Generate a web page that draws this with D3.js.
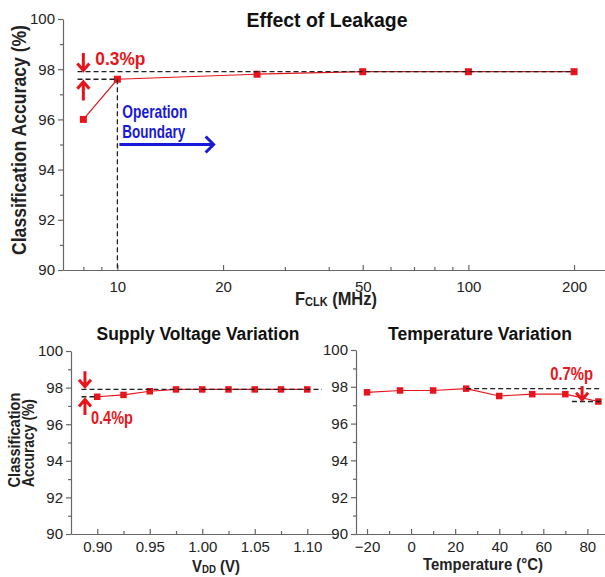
<!DOCTYPE html>
<html>
<head>
<meta charset="utf-8">
<script src="https://cdn.jsdelivr.net/npm/d3@7"></script>
<style>
    body { margin: 0; background: #fff; }
    svg { display: block; }
    .eixo path, .eixo line { stroke: #666; stroke-width: 1.2; }
    .eixo text { font-family: Arial, 'Liberation Sans', sans-serif; font-size: 15px; fill: #222; }
    .negrito { font-family: 'Liberation Sans Narrow', 'Arial Narrow', Arial, 'Liberation Sans', sans-serif; font-weight: bold; }
</style>
</head>
<body>
<div id="grafico"></div>
<script>
// Dados
const freqMHz = [8, 10, 25, 50, 100, 200];
const accLeakage = [96.0, 97.6, 97.8, 97.9, 97.9, 97.9];
const vddV = [0.9, 0.925, 0.95, 0.975, 1.0, 1.025, 1.05, 1.075, 1.1];
const accVdd = [97.5, 97.6, 97.8, 97.9, 97.9, 97.9, 97.9, 97.9, 97.9];
const tempC = [-20, -5, 10, 25, 40, 55, 70, 85];
const accTemp = [97.7, 97.8, 97.8, 97.9, 97.5, 97.6, 97.6, 97.2];

// Marcas dos eixos
const accTicks = [90, 92, 94, 96, 98, 100];
const accMinor = [91, 93, 95, 97, 99];
const freqTicks = [10, 20, 50, 100, 200];
const freqMinor = [8, 9, 30, 40, 60, 70, 80, 90];
const vddTicks = [0.90, 0.95, 1.00, 1.05, 1.10];
const vddMinor = [0.925, 0.975, 1.025, 1.075];
const tempTicks = [-20, 0, 20, 40, 60, 80];
const tempMinor = [-10, 10, 30, 50, 70];

const VERMELHO = '#e8141c';
const AZUL = '#1818d8';

const svg = d3.select('#grafico').append('svg')
    .attr('width', 605).attr('height', 577);

/**
 * Desenha um painel com eixos, linha e marcadores
 */
const painel = (cfg) => {
    const g = svg.append('g');
    const x = cfg.x, y = cfg.y;
    const [y0] = y.range();
    const [x0] = x.range();

    // eixo X (marcas para dentro)
    g.append('g').attr('class', 'eixo')
        .attr('transform', `translate(0,${y0})`)
        .call(d3.axisBottom(x).tickValues(cfg.xMinor).tickSize(-3).tickFormat(''))
        .call(s => s.select('.domain').remove());
    g.append('g').attr('class', 'eixo')
        .attr('transform', `translate(0,${y0})`)
        .call(d3.axisBottom(x).tickValues(cfg.xTicks).tickSize(-5).tickSizeOuter(0)
            .tickPadding(cfg.xPad).tickFormat(cfg.xFmt));

    // eixo Y (marcas para fora)
    g.append('g').attr('class', 'eixo')
        .attr('transform', `translate(${x0},0)`)
        .call(d3.axisLeft(y).tickValues(accMinor).tickSize(3).tickFormat(''))
        .call(s => s.select('.domain').remove());
    g.append('g').attr('class', 'eixo')
        .attr('transform', `translate(${x0},0)`)
        .call(d3.axisLeft(y).tickValues(accTicks).tickSize(5).tickSizeOuter(0).tickPadding(3));

    // linha dos dados
    const pontos = cfg.xs.map((v, i) => [v, cfg.ys[i]]);
    g.append('path')
        .attr('d', d3.line().x(d => x(d[0])).y(d => y(d[1]))(pontos))
        .attr('fill', 'none')
        .attr('stroke', VERMELHO)
        .attr('stroke-width', 1.2);

    g.selectAll('rect.ponto').data(pontos).enter().append('rect')
        .attr('class', 'ponto')
        .attr('x', d => x(d[0]) - cfg.m / 2)
        .attr('y', d => y(d[1]) - cfg.m / 2)
        .attr('width', cfg.m).attr('height', cfg.m)
        .attr('fill', VERMELHO);

    return g;
};

const tracejado = (g, x, y, pts) => {
    g.append('path')
        .attr('d', d3.line().x(d => x(d[0])).y(d => y(d[1]))(pts))
        .attr('fill', 'none')
        .attr('stroke', '#222')
        .attr('stroke-width', 1.3)
        .attr('stroke-dasharray', '5,3');
};

// seta vertical: ponta em pyTo
const setaV = (g, px, pyFrom, pyTo) => {
    const dir = pyTo > pyFrom ? 1 : -1;
    g.append('path')
        .attr('d', `M${px},${pyFrom}L${px},${pyTo}M${px - 6},${pyTo - dir * 7}L${px},${pyTo}L${px + 6},${pyTo - dir * 7}`)
        .attr('fill', 'none')
        .attr('stroke', VERMELHO)
        .attr('stroke-width', 3);
};

const texto = (g, t, size, cor, anchor) => g.append('text')
    .attr('class', 'negrito')
    .attr('text-anchor', anchor || 'start')
    .attr('font-size', size)
    .attr('fill', cor)
    .text(t);

// posiciona e comprime o texto na horizontal (fonte estreita)
const encaixar = (el, px, py, largura, rot) => {
    const w = el.node().getBBox().width;
    const k = largura / w;
    el.attr('transform', `translate(${px},${py})${rot ? ' rotate(-90)' : ''} scale(${k},1)`);
};

// ---------- Painel superior: Effect of Leakage ----------
const xF = d3.scaleLog().domain([7, 245]).range([63, 605]);
const yF = d3.scaleLinear().domain([90, 100]).range([270, 19]);
const gTopo = painel({
    x: xF, y: yF, xs: freqMHz, ys: accLeakage,
    xTicks: freqTicks, xMinor: freqMinor, xFmt: d3.format('d'), xPad: 11, m: 7
});
tracejado(gTopo, xF, yF, [[7.7, 97.9], [200, 97.9]]);
tracejado(gTopo, xF, yF, [[7.7, 97.6], [10, 97.6]]);
tracejado(gTopo, xF, yF, [[10, 97.6], [10, 90]]);
setaV(gTopo, xF(8), yF(98.65), yF(97.95));
setaV(gTopo, xF(8), yF(96.75), yF(97.5));
texto(gTopo, '0.3%p', 18, VERMELHO).call(encaixar, xF(8) + 12, yF(98.18), 50);
texto(gTopo, 'Operation', 18, AZUL).call(encaixar, xF(10) + 5, yF(96.05), 65);
texto(gTopo, 'Boundary', 18, AZUL).call(encaixar, xF(10) + 5, yF(95.25), 63);
gTopo.append('path')
    .attr('d', `M${xF(10) + 2},${yF(95)}L${xF(18.8)},${yF(95)}M${xF(18.8) - 8},${yF(95) - 8}L${xF(18.8)},${yF(95)}L${xF(18.8) - 8},${yF(95) + 8}`)
    .attr('fill', 'none').attr('stroke', AZUL).attr('stroke-width', 3);
texto(gTopo, 'Effect of Leakage', 21, '#111', 'middle').call(encaixar, 327, 27, 161);
texto(gTopo, 'Classification Accuracy (%)', 20, '#222', 'middle').call(encaixar, 26, 140, 230, true);
const rotF = texto(gTopo, 'F', 18, '#222');
rotF.append('tspan').attr('font-size', 12).attr('dy', 1).text('CLK');
rotF.append('tspan').attr('dy', -1).text(' (MHz)');
rotF.call(encaixar, 295, 305, 82);

// ---------- Painel inferior esquerdo: Supply Voltage ----------
const xV = d3.scaleLinear().domain([0.875, 1.125]).range([71, 333.5]);
const yV = d3.scaleLinear().domain([90, 100]).range([534, 351]);
const gV = painel({
    x: xV, y: yV, xs: vddV, ys: accVdd,
    xTicks: vddTicks, xMinor: vddMinor, xFmt: d3.format('.2f'), xPad: 7, m: 6.5
});
tracejado(gV, xV, yV, [[0.885, 97.9], [1.114, 97.9]]);
tracejado(gV, xV, yV, [[0.885, 97.5], [0.9, 97.5]]);
setaV(gV, xV(0.8883), yV(98.9), yV(98.05));
setaV(gV, xV(0.8883), yV(96.5), yV(97.35));
texto(gV, '0.4%p', 18, VERMELHO).call(encaixar, xV(0.8883) + 6, yV(96.0), 42);
texto(gV, 'Supply Voltage Variation', 19, '#111', 'middle').call(encaixar, 198, 340, 203);
texto(gV, 'Classification', 17, '#222', 'middle').call(encaixar, 20, 440, 95, true);
texto(gV, 'Accuracy (%)', 17, '#222', 'middle').call(encaixar, 34, 443, 88, true);
const rotV = texto(gV, 'V', 17, '#222');
rotV.append('tspan').attr('font-size', 11).attr('dy', 1).text('DD');
rotV.append('tspan').attr('dy', -1).text(' (V)');
rotV.call(encaixar, 192, 572, 48);

// ---------- Painel inferior direito: Temperature ----------
const xT = d3.scaleLinear().domain([-25, 88]).range([356, 605]);
const yT = d3.scaleLinear().domain([90, 100]).range([534, 350]);
const gT = painel({
    x: xT, y: yT, xs: tempC, ys: accTemp,
    xTicks: tempTicks, xMinor: tempMinor, xFmt: d3.format('d'), xPad: 7, m: 6.5
});
tracejado(gT, xT, yT, [[25, 97.9], [86.5, 97.9]]);
tracejado(gT, xT, yT, [[73, 97.2], [86.5, 97.2]]);
setaV(gT, xT(77.6), yT(98.05), yT(97.3));
texto(gT, '0.7%p', 18, VERMELHO, 'end').call(encaixar, xT(82.6), yT(98.35), 43);
texto(gT, 'Temperature Variation', 19, '#111', 'middle').call(encaixar, 480, 340, 184);
texto(gT, 'Temperature (°C)', 17, '#222', 'middle').call(encaixar, 483, 570, 120);
</script>
</body>
</html>
